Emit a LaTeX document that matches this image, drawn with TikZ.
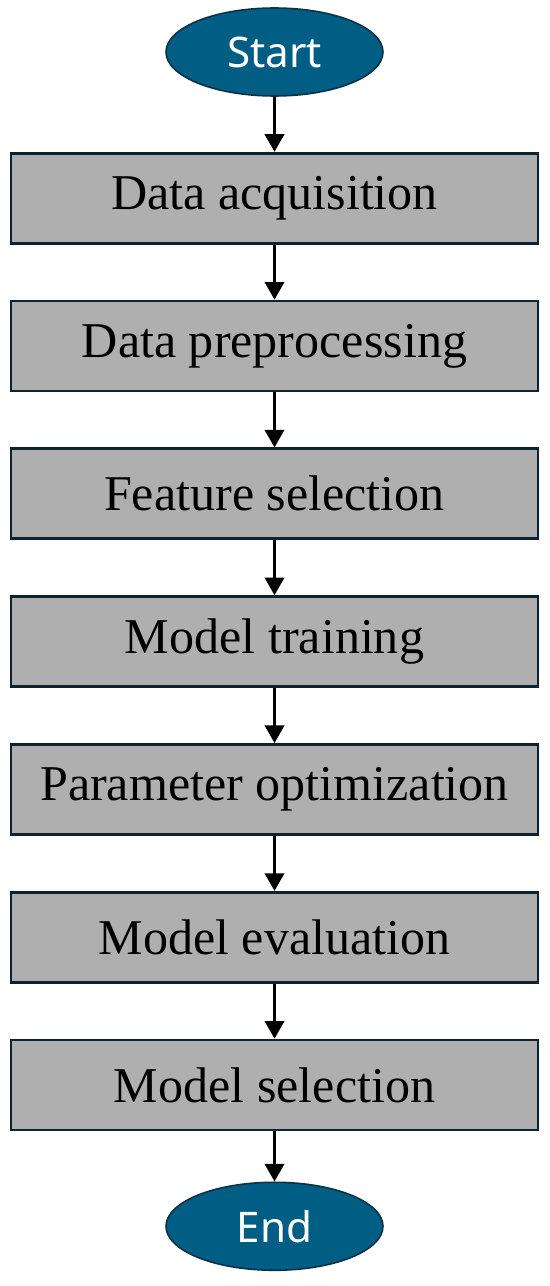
\documentclass[tikz,border=0pt]{standalone}
\usepackage{fontspec}
\setmainfont{Liberation Serif}
\newfontfamily\termfont{Noto Sans}
\usepackage{xcolor}
\usepackage{tikz}
\usetikzlibrary{shapes.geometric, arrows.meta, positioning}

\definecolor{termblue}{RGB}{0,94,133}
\definecolor{termedge}{RGB}{12,48,68}
\definecolor{boxgray}{RGB}{175,175,175}
\definecolor{boxedge}{RGB}{14,34,48}

\begin{document}
\begin{tikzpicture}[
    node distance=1.1cm,
    terminal/.style={ellipse, draw=termedge, fill=termblue, line width=0.9pt,
        minimum width=4.34cm, minimum height=1.76cm, inner sep=0pt,
        text=white, font=\termfont\fontsize{24}{28}\selectfont},
    stepbox/.style={rectangle, draw=boxedge, fill=boxgray, line width=1.6pt,
        minimum width=10.54cm, minimum height=1.8cm, inner sep=0pt,
        text=black, font=\fontsize{28.5}{34}\selectfont},
    arrow/.style={-{Triangle[length=10pt, width=11pt]}, line width=1.5pt, color=black},
]

\useasboundingbox (0,0) rectangle (11,-25.72);

% --- Start ---
\node[terminal] (start) at (5.49,-1.04) {Start};

% --- Steps ---
\node[stepbox, below=of start] (acq) {Data acquisition};
\node[stepbox, below=of acq] (prep) {Data preprocessing};
\node[stepbox, below=of prep] (feat) {Feature selection};
\node[stepbox, below=of feat] (train) {Model training};
\node[stepbox, below=of train] (param) {Parameter optimization};
\node[stepbox, below=of param] (eval) {Model evaluation};
\node[stepbox, below=of eval] (select) {Model selection};

% --- End ---
\node[terminal, below=1.0cm of select] (end) {End};

% --- Arrows ---
\draw[arrow] (start) -- (acq);
\draw[arrow] (acq) -- (prep);
\draw[arrow] (prep) -- (feat);
\draw[arrow] (feat) -- (train);
\draw[arrow] (train) -- (param);
\draw[arrow] (param) -- (eval);
\draw[arrow] (eval) -- (select);
\draw[arrow] (select) -- (end);

\end{tikzpicture}
\end{document}
